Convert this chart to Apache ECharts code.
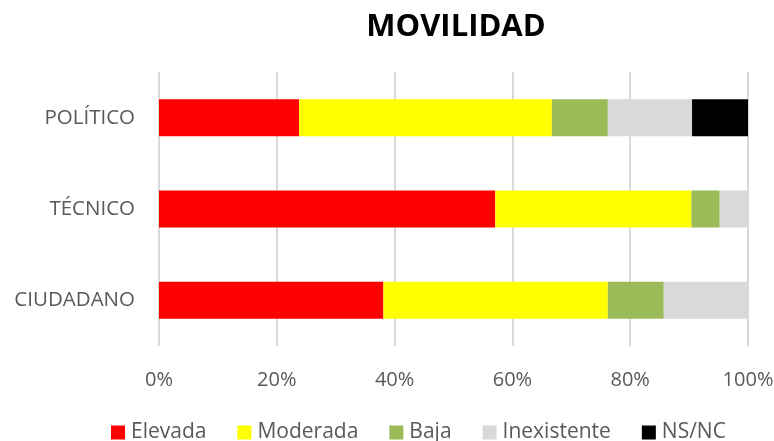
<!DOCTYPE html>
<html>
<head>
<meta charset="utf-8">
<script src="https://cdn.jsdelivr.net/npm/echarts@6/dist/echarts.min.js"></script>
<style>
html,body{margin:0;padding:0;background:#fff;}
#chart{width:774px;height:441px;}
</style>
</head>
<body>
<div id="chart"></div>
<script>
// categorias, de abajo arriba
var categorias = ['CIUDADANO', 'TÉCNICO', 'POLÍTICO'];
var elevada = [38.1, 57.1, 23.8];
var moderada = [38.1, 33.3, 42.9];
var baja = [9.5, 4.8, 9.5];
var inexistente = [14.3, 4.8, 14.3];
var nsnc = [0, 0, 9.5];
var ticks = [0, 20, 40, 60, 80, 100];

var chart = echarts.init(document.getElementById('chart'));
var fuente = 'Open Sans';

function serie(nombre, datos, color){
    return {
        name: nombre,
        type: 'bar',
        stack: 'total',
        barWidth: 37,
        data: datos,
        itemStyle: {color: color},
        emphasis: {disabled: true}
    };
}

var option = {
    animation: false,
    title: {
        text: 'MOVILIDAD',
        left: 451,
        top: 7,
        textAlign: 'center',
        textStyle: {fontFamily: fuente, fontWeight: 'bold', fontSize: 31, color: '#000'}
    },
    grid: {
        left: 159,
        right: 26,
        top: 72,
        bottom: 95,
        outerBoundsMode: 'none'
    },
    legend: {
        top: 417,
        left: 106,
        itemWidth: 14,
        itemHeight: 14,
        itemGap: 31,
        icon: 'rect',
        textStyle: {fontFamily: fuente, fontSize: 21, color: '#595959', padding: [0, 0, 0, 1]},
        data: ['Elevada', 'Moderada', 'Baja', 'Inexistente', 'NS/NC']
    },
    xAxis: {
        type: 'value',
        min: 0,
        max: 100,
        interval: 20,
        axisLine: {show: false},
        axisTick: {show: false},
        axisLabel: {
            margin: 24,
            fontFamily: fuente,
            fontSize: 20,
            color: '#595959',
            formatter: function(v){ return ticks.indexOf(v) >= 0 ? v + '%' : ''; }
        },
        splitLine: {show: true, lineStyle: {color: '#d9d9d9', width: 2}}
    },
    yAxis: {
        type: 'category',
        data: categorias,
        axisLine: {show: false},
        axisTick: {show: false},
        axisLabel: {
            margin: 24,
            fontFamily: fuente,
            fontSize: 20.5,
            color: '#595959'
        }
    },
    series: [
        serie('Elevada', elevada, '#ff0000'),
        serie('Moderada', moderada, '#ffff00'),
        serie('Baja', baja, '#9bbb59'),
        serie('Inexistente', inexistente, '#d9d9d9'),
        serie('NS/NC', nsnc, '#000000')
    ]
};
chart.setOption(option);
</script>
</body>
</html>
